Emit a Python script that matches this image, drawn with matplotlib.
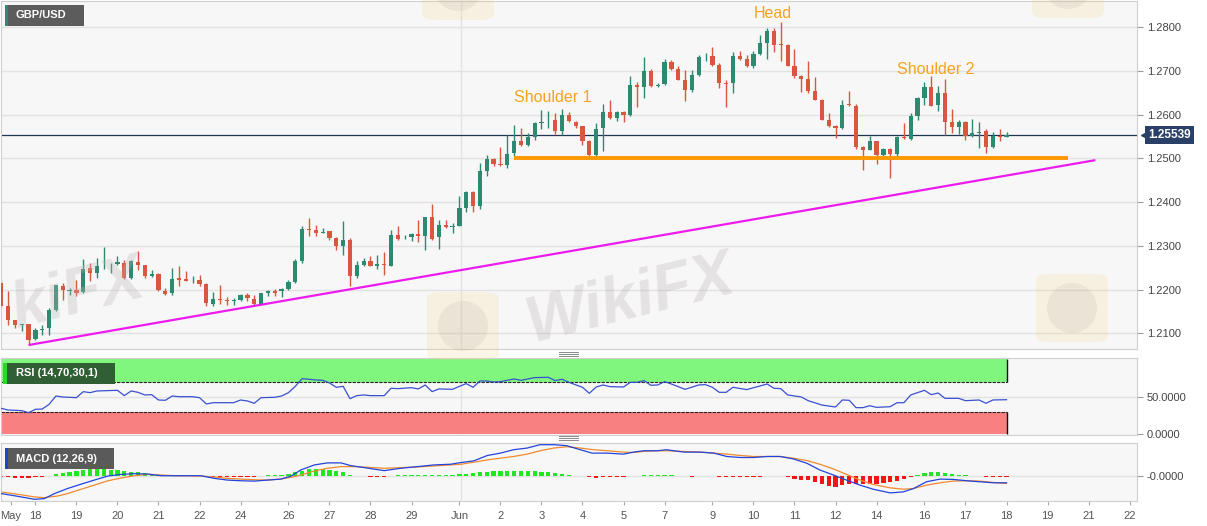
import numpy as np
import matplotlib

matplotlib.use("Agg")
import matplotlib.pyplot as plt
import matplotlib.transforms as mtransforms
from matplotlib.lines import Line2D
from matplotlib.patches import Rectangle, FancyBboxPatch, Ellipse
from matplotlib.ticker import FormatStrFormatter

plt.rcParams["font.family"] = ["Liberation Sans", "DejaVu Sans"]

# GBP/USD 4H candles
opens = [1.22146, 1.21612, 1.21292, 1.21193, 1.21216, 1.20865, 1.21063, 1.21116, 1.21521, 1.22085,
         1.21970, 1.21994, 1.21933, 1.22490, 1.22375, 1.22530, 1.22550, 1.22589, 1.22604, 1.22261,
         1.22627, 1.22551, 1.22314, 1.22360, 1.21971, 1.21917, 1.22261, 1.22238, 1.22190, 1.22223,
         1.22131, 1.21673, 1.21780, 1.21757, 1.21740, 1.21750, 1.21864, 1.21788, 1.21673, 1.21917,
         1.21956, 1.21956, 1.22009, 1.22161, 1.22658, 1.23382, 1.23367, 1.23300, 1.23329, 1.23176,
         1.22986, 1.23138, 1.22299, 1.22551, 1.22642, 1.22528, 1.22581, 1.22543, 1.23253, 1.23170,
         1.23192, 1.23276, 1.23215, 1.23657, 1.23192, 1.23466, 1.23440, 1.23459, 1.23863, 1.24229,
         1.23901, 1.24702, 1.24985, 1.24870, 1.24855, 1.25122, 1.25404, 1.25298, 1.25481, 1.25820,
         1.25850, 1.25870, 1.25633, 1.25984, 1.25832, 1.25732, 1.25404, 1.25069, 1.25694, 1.26061,
         1.25923, 1.26053, 1.25984, 1.26686, 1.26633, 1.27007, 1.26660, 1.26701, 1.27197, 1.27052,
         1.26801, 1.26557, 1.26915, 1.27310, 1.27350, 1.27129, 1.26720, 1.26724, 1.27335, 1.27274,
         1.27106, 1.27396, 1.27640, 1.27907, 1.27610, 1.27602, 1.27121, 1.26877, 1.26816, 1.26534,
         1.26343, 1.25885, 1.25730, 1.25694, 1.26240, 1.26206, 1.25252, 1.25198, 1.25389, 1.25084,
         1.25214, 1.25107, 1.25490, 1.25443, 1.25961, 1.26381, 1.26625, 1.26228, 1.26495, 1.25824,
         1.25717, 1.25824, 1.25504, 1.25590, 1.25618, 1.25252, 1.25520, 1.25500]
highs = [1.22223, 1.21956, 1.21307, 1.21216, 1.21216, 1.21116, 1.21193, 1.21574, 1.22108, 1.22146,
         1.22032, 1.22223, 1.22696, 1.22604, 1.22719, 1.22970, 1.22604, 1.22757, 1.22680, 1.22680,
         1.22871, 1.22566, 1.22452, 1.22375, 1.22032, 1.22490, 1.22528, 1.22413, 1.22299, 1.22337,
         1.22146, 1.21933, 1.22108, 1.21818, 1.21803, 1.21902, 1.21917, 1.21879, 1.21917, 1.21994,
         1.22009, 1.22032, 1.22223, 1.22696, 1.23459, 1.23634, 1.23482, 1.23405, 1.23329, 1.23199,
         1.23558, 1.23176, 1.22642, 1.22719, 1.22757, 1.22795, 1.22848, 1.23367, 1.23443, 1.23237,
         1.23291, 1.23596, 1.23657, 1.23955, 1.23596, 1.23596, 1.23520, 1.24145, 1.24245, 1.24245,
         1.24893, 1.25084, 1.25008, 1.25259, 1.25542, 1.25755, 1.25694, 1.25580, 1.25832, 1.26114,
         1.26076, 1.26038, 1.26137, 1.26053, 1.25847, 1.25732, 1.25427, 1.25809, 1.26251, 1.26328,
         1.26076, 1.26076, 1.26892, 1.26740, 1.27320, 1.27052, 1.26724, 1.27274, 1.27243, 1.27106,
         1.27030, 1.27030, 1.27373, 1.27411, 1.27541, 1.27182, 1.26801, 1.27434, 1.27449, 1.27373,
         1.27449, 1.27815, 1.27983, 1.27983, 1.28113, 1.27617, 1.27503, 1.26915, 1.27220, 1.26854,
         1.26358, 1.26038, 1.25771, 1.26328, 1.26534, 1.26251, 1.25275, 1.25504, 1.25404, 1.25237,
         1.25237, 1.25504, 1.25809, 1.26038, 1.26396, 1.26740, 1.26877, 1.26648, 1.26816, 1.26129,
         1.25870, 1.25847, 1.25900, 1.25824, 1.25671, 1.25595, 1.25671, 1.25603]
lows = [1.21574, 1.21193, 1.21116, 1.21040, 1.20735, 1.20849, 1.20964, 1.20964, 1.21498, 1.21765,
        1.21879, 1.21841, 1.21917, 1.22185, 1.22261, 1.22467, 1.22375, 1.22551, 1.22238, 1.22238,
        1.22452, 1.22261, 1.22284, 1.21956, 1.21879, 1.21879, 1.22085, 1.22185, 1.22146, 1.22085,
        1.21628, 1.21628, 1.21673, 1.21650, 1.21650, 1.21727, 1.21727, 1.21650, 1.21673, 1.21841,
        1.21841, 1.21818, 1.21994, 1.22146, 1.22604, 1.23215, 1.23230, 1.23291, 1.23138, 1.22894,
        1.22795, 1.22085, 1.22261, 1.22528, 1.22528, 1.22467, 1.22337, 1.22528, 1.23138, 1.23154,
        1.23100, 1.23085, 1.22909, 1.23123, 1.22932, 1.23405, 1.23291, 1.23443, 1.23764, 1.23764,
        1.23840, 1.24588, 1.24832, 1.24832, 1.24779, 1.25046, 1.25275, 1.25275, 1.25427, 1.25671,
        1.25694, 1.25557, 1.25542, 1.25824, 1.25694, 1.25313, 1.25046, 1.25046, 1.25160, 1.25900,
        1.25847, 1.25824, 1.25961, 1.26175, 1.26381, 1.26633, 1.26633, 1.26686, 1.27030, 1.26785,
        1.26305, 1.26518, 1.26892, 1.27220, 1.27121, 1.26610, 1.26175, 1.26495, 1.27258, 1.27091,
        1.27068, 1.27373, 1.27274, 1.27426, 1.27220, 1.27106, 1.26839, 1.26511, 1.26495, 1.26328,
        1.25870, 1.25717, 1.25465, 1.25671, 1.26190, 1.25214, 1.24741, 1.25183, 1.24878, 1.25046,
        1.24550, 1.25061, 1.25443, 1.25427, 1.25885, 1.26228, 1.26190, 1.26091, 1.25542, 1.25580,
        1.25565, 1.25427, 1.25488, 1.25237, 1.25122, 1.25237, 1.25389, 1.25481]
closes = [1.21612, 1.21307, 1.21193, 1.21216, 1.20849, 1.21078, 1.21093, 1.21521, 1.22093, 1.21994,
          1.21980, 1.21917, 1.22467, 1.22375, 1.22528, 1.22540, 1.22560, 1.22627, 1.22261, 1.22642,
          1.22551, 1.22314, 1.22360, 1.21979, 1.21902, 1.22246, 1.22223, 1.22192, 1.22200, 1.22123,
          1.21689, 1.21788, 1.21750, 1.21727, 1.21750, 1.21864, 1.21803, 1.21673, 1.21917, 1.21956,
          1.21917, 1.22017, 1.22169, 1.22658, 1.23382, 1.23352, 1.23291, 1.23310, 1.23176, 1.22986,
          1.23138, 1.22299, 1.22551, 1.22642, 1.22543, 1.22581, 1.22551, 1.23253, 1.23154, 1.23180,
          1.23268, 1.23215, 1.23649, 1.23154, 1.23482, 1.23428, 1.23450, 1.23863, 1.24229, 1.23901,
          1.24702, 1.24992, 1.24878, 1.24840, 1.25107, 1.25404, 1.25298, 1.25481, 1.25809, 1.25840,
          1.25860, 1.25633, 1.25984, 1.25847, 1.25732, 1.25404, 1.25069, 1.25679, 1.26061, 1.25923,
          1.26053, 1.25984, 1.26686, 1.26633, 1.27007, 1.26663, 1.26670, 1.27197, 1.27052, 1.26801,
          1.26557, 1.26915, 1.27320, 1.27330, 1.27144, 1.26724, 1.26700, 1.27335, 1.27274, 1.27106,
          1.27396, 1.27640, 1.27907, 1.27602, 1.27600, 1.27121, 1.26877, 1.26816, 1.26534, 1.26343,
          1.25885, 1.25732, 1.25700, 1.26228, 1.26220, 1.25252, 1.25198, 1.25389, 1.25084, 1.25214,
          1.25107, 1.25481, 1.25470, 1.25961, 1.26373, 1.26633, 1.26206, 1.26495, 1.25824, 1.25717,
          1.25824, 1.25504, 1.25580, 1.25610, 1.25252, 1.25504, 1.25490, 1.25539]

# pattern lines (candle index, price)
trend_x = [4, 160]
trend_y = [1.2073, 1.2496]
neck_x = [75, 156]
neck_y = [1.2500, 1.2500]

# RSI(14) line
rsi_x = [0, 1, 3, 4, 5, 6, 7, 8, 9, 11, 12, 13, 14, 17, 18, 19, 20, 21, 22, 23,
         24, 25, 26, 28, 29, 30, 31, 32, 34, 35, 36, 37, 38, 40, 41, 42, 43, 44, 46, 47,
         48, 49, 50, 51, 52, 53, 54, 56, 57, 58, 60, 61, 62, 63, 64, 66, 67, 68, 69, 70,
         71, 72, 73, 75, 76, 78, 80, 81, 82, 83, 85, 86, 87, 88, 89, 91, 92, 93, 94, 95,
         96, 97, 98, 100, 102, 103, 104, 105, 106, 107, 109, 112, 113, 114, 115, 117, 118, 120, 122, 123,
         124, 125, 126, 127, 128, 130, 131, 132, 133, 135, 136, 137, 138, 140, 141, 143, 144, 145, 147]
rsi_y = [34.5, 32.3, 31.4, 28.7, 33.2, 33.6, 39.8, 50.9, 49.6, 48.7, 56.7, 55.4, 57.6, 58.5, 51.4, 57.6, 55.8, 52.3, 52.7, 45.6,
         45.2, 50.9, 50.0, 50.0, 48.7, 40.3, 42.0, 42.0, 42.0, 45.6, 44.3, 41.2, 48.7, 49.2, 50.9, 55.4, 63.8, 74.0, 72.3, 71.8,
         68.3, 62.5, 63.8, 47.4, 51.4, 52.3, 51.4, 51.4, 61.2, 60.7, 62.0, 60.3, 65.6, 56.7, 60.3, 59.8, 63.8, 67.4, 62.5, 70.9,
         70.9, 69.6, 70.0, 73.6, 71.8, 75.4, 75.8, 71.4, 73.2, 69.2, 62.5, 54.5, 62.9, 65.6, 63.4, 62.9, 69.2, 69.2, 71.4, 65.2,
         65.6, 70.0, 66.9, 59.8, 65.6, 66.0, 62.5, 55.8, 55.8, 62.5, 59.4, 66.9, 61.2, 60.7, 52.3, 49.6, 44.7, 38.9, 36.3, 45.6,
         45.2, 35.4, 35.4, 38.0, 35.8, 36.7, 42.0, 42.0, 52.3, 58.5, 52.7, 54.9, 47.8, 47.8, 44.7, 45.6, 41.2, 45.6, 46.0]

# MACD(12,26,9), read in panel units (zero = centre line)
macd_x = [0, 2.4, 4.9, 6.3, 7.8, 9.7, 11.7, 13.6, 15.6, 17.5, 19.5, 21.4, 23.4, 25.3, 27.3, 29.2, 31.2, 33.1, 35.1, 37.0,
          38.9, 40.9, 42.4, 43.8, 45.8, 47.7, 49.7, 51.1, 53.1, 56.0, 58.4, 60.9, 63.3, 65.7, 67.2, 69.1, 71.1, 73.0, 74.9, 76.9,
          78.8, 80.8, 82.7, 84.7, 86.4, 88.6, 91.0, 92.5, 93.9, 95.9, 97.3, 99.8, 102.2, 104.2, 106.1, 108.1, 110.0, 112.0, 113.9, 115.8,
          117.8, 119.7, 121.7, 123.6, 125.6, 127.5, 130.0, 131.9, 133.4, 135.3, 137.3, 139.2, 141.2, 143.1, 145.1, 147.0]
macd_y = [-53, -61, -70, -68, -53, -38, -25, -13, -1, 4, 6, 5, 0, 0, 0, 0, -8, -13, -15, -16,
          -13, -10, -1, 17, 32, 38, 38, 30, 24, 15, 22, 27, 32, 34, 39, 44, 60, 67, 77, 82,
          92, 92, 89, 77, 67, 67, 64, 70, 74, 74, 77, 70, 70, 67, 57, 54, 54, 57, 57, 50,
          37, 17, 2, -13, -28, -40, -51, -48, -38, -18, -10, -11, -15, -18, -21, -21]
signal_x = [0, 2.4, 4.9, 6.3, 8.3, 9.7, 11.7, 13.6, 15.6, 17.5, 19.5, 21.4, 23.4, 25.3, 27.3, 29.2, 31.2, 33.1, 35.1, 37.0,
            38.9, 40.9, 42.8, 43.8, 45.8, 47.7, 49.7, 51.6, 53.6, 56.0, 58.4, 60.9, 63.3, 65.7, 67.2, 69.1, 71.1, 73.0, 74.9, 76.9,
            78.8, 80.8, 82.7, 84.7, 86.6, 88.6, 91.0, 92.5, 93.9, 95.9, 97.3, 99.8, 102.2, 104.2, 106.1, 108.1, 110.0, 112.0, 113.9, 115.8,
            117.8, 119.7, 121.7, 123.6, 125.6, 127.5, 130.0, 131.9, 133.4, 135.3, 137.3, 139.2, 141.2, 143.1, 145.1, 147.0]
signal_y = [-48, -55, -63, -65, -60, -53, -40, -28, -15, -7, 0, 4, 2, 0, 0, -1, -4, -8, -10, -12,
            -13, -10, -3, 2, 14, 22, 27, 27, 25, 22, 24, 26, 29, 32, 34, 40, 47, 52, 57, 64,
            74, 82, 86, 82, 77, 74, 70, 69, 72, 74, 74, 72, 70, 67, 64, 60, 57, 57, 57, 52,
            45, 34, 20, 4, -13, -26, -36, -40, -38, -28, -21, -16, -15, -16, -20, -23]
hist = [-5, -5, -6, -6, -6, -5, -4, -1, 4, 8, 12, 14, 18, 19, 19, 19, 18, 16, 13, 11,
        10, 8, 6, 3, 1, 0.5, 0.3, -0.5, -1, -2, -4, -5, -5, -5, -4, -4, -3, -3, -1, 1,
        2, 3, 5, 10, 15, 19, 21, 21, 18, 14, 10, 3, 0.5, -2, -4, -5, -5, -1, 1, 2,
        2, 2, 3, 3, 3, 3, 3, 4, 6, 8, 10, 12, 13, 14, 15, 15, 14, 14, 13, 12,
        10, 7, 5, 3, 0.5, -2, -5, -6, -5, -5, -4, -4, -2, -1, 1, 2, 2, 2, 1, -1,
        -2, -3, -1, -1, -2, -4, -5, -5, -4, -4, -4, -3, -1, -1, -2, -5, -9, -12, -14, -19,
        -26, -30, -32, -28, -25, -26, -26, -25, -24, -22, -20, -16, -10, -4, 3, 8, 10, 10, 7, 4,
        2, 1, 0, -1, -3, -3, -3, -3]

# x axis labels (candle index of each day start)
tick_pos = [1.4, 5, 11, 17, 23, 29, 35, 42, 48, 54, 60, 67, 73, 79, 85, 91, 97, 104, 110, 116,
            122, 128, 135, 141, 147, 153, 159, 165]
tick_lab = ["May", "18", "19", "20", "21", "22", "24", "26", "27", "28", "29", "Jun", "2", "3", "4", "5",
            "7", "9", "10", "11", "12", "14", "16", "17", "18", "19", "21", "22"]
price_ticks = [1.21, 1.22, 1.23, 1.24, 1.25, 1.26, 1.27, 1.28]

GREEN = "#2b8a70"
RED = "#d9573f"
ORANGE = "#f7a21b"
TAG = "#2b4066"
W, H = 1207, 526
X_RIGHT = 1137 / 6.846   # right edge of the plots in candle units

fig = plt.figure(figsize=(W / 100, H / 100), dpi=100)


def panel(top, bottom):
    return [0.001, 1 - bottom / H, 1137 / W - 0.001, (bottom - top) / H]


ax = fig.add_axes(panel(1, 349))
ax_rsi = fig.add_axes(panel(358, 435), sharex=ax)
ax_macd = fig.add_axes(panel(443, 501), sharex=ax)

for a in (ax, ax_rsi, ax_macd):
    a.set_facecolor("#f7f7f7")
    for s in a.spines.values():
        s.set_color("#cfcfcf")
        s.set_linewidth(0.8)
    a.yaxis.tick_right()
    a.tick_params(axis="y", direction="out", length=4, color="#999999",
                  labelcolor="#444444", labelsize=8, pad=3)
    a.axvline(67.2, color="#e3e3e3", lw=1, zorder=0)
    a.set_xlim(0, X_RIGHT)

# ---- price panel
o = np.array(opens)
hi = np.array(highs)
lo = np.array(lows)
c = np.array(closes)
idx = np.arange(len(o))
cols = np.where(c >= o, GREEN, RED)

for p in price_ticks:
    ax.axhline(p, color="#e2e2e2", lw=1, zorder=0)

# faint WikiFX watermarks
ax.text(92, 1.2176, "WikiFX", fontsize=46, fontweight="bold", fontstyle="italic",
        color="#bdb5b5", alpha=0.32, rotation=14, ha="center", va="center", zorder=5)
ax.text(0.6, 1.2186, "kiFX", fontsize=46, fontweight="bold", fontstyle="italic",
        color="#bdb5b5", alpha=0.32, rotation=14, ha="left", va="center", zorder=5)

ax.vlines(idx, lo, hi, colors=cols, lw=1, zorder=2)
ax.bar(idx, np.maximum(np.abs(c - o), 0.00004), bottom=np.minimum(o, c),
       width=0.62, color=cols, lw=0, zorder=3)

ax.plot(trend_x, trend_y, color="#ee1bee", lw=1.6, zorder=4, solid_capstyle="butt")
ax.plot(neck_x, neck_y, color="#ff9800", lw=2.8, zorder=4, solid_capstyle="butt")
ax.axhline(c[-1], color="#1f3556", lw=0.9, zorder=1)

ax.text(112.9, 1.28326, "Head", color=ORANGE, fontsize=11.5, ha="center", va="center")
ax.text(80.6, 1.26382, "Shoulder 1", color=ORANGE, fontsize=11.5, ha="center", va="center")
ax.text(136.6, 1.27045, "Shoulder 2", color=ORANGE, fontsize=11.5, ha="center", va="center")

ax.set_ylim(1.20639, 1.28601)
ax.set_yticks(price_ticks)
ax.yaxis.set_major_formatter(FormatStrFormatter("%.4f"))
ax.tick_params(axis="x", bottom=False, labelbottom=False)

# last price tag on the right axis
tag_tr = mtransforms.blended_transform_factory(ax.transAxes, ax.transData)
ax.plot([1.006], [c[-1]], marker="<", ms=5, color=TAG, transform=tag_tr,
        clip_on=False, zorder=6)
ax.text(1.01, c[-1], f"{c[-1]:.5f}", transform=tag_tr, color="white", fontsize=8.5,
        fontweight="bold", ha="left", va="center", zorder=7,
        bbox=dict(boxstyle="square,pad=0.28", fc=TAG, ec="none"))

# ---- RSI panel
last = idx[-1]
ax_rsi.axhline(50, color="#e2e2e2", lw=1, zorder=0)
ax_rsi.add_patch(Rectangle((0, 70), last, 30, fc="#80f77c", ec="none", zorder=1))
ax_rsi.add_patch(Rectangle((0, 0), last, 30, fc="#f98080", ec="none", zorder=1))
ax_rsi.hlines([70, 30], 0, last, colors="#222222", lw=0.8, linestyles=(0, (3, 1)), zorder=2)
ax_rsi.vlines([last, last], [70, 0], [100, 30], colors="#111111", lw=1, zorder=2)
ax_rsi.plot(rsi_x, rsi_y, color="#3a50d0", lw=0.9, zorder=3)
ax_rsi.set_ylim(-1, 101.5)
ax_rsi.set_yticks([0, 50])
ax_rsi.yaxis.set_major_formatter(FormatStrFormatter("%.4f"))
ax_rsi.tick_params(axis="x", bottom=False, labelbottom=False)

# ---- MACD panel
hv = np.array(hist)
ax_macd.axhline(0, color="#e2e2e2", lw=1, zorder=0)
ax_macd.bar(idx, hv, width=0.62, color=np.where(hv >= 0, "#1fe61f", "#f51414"), lw=0, zorder=1)
ax_macd.plot(signal_x, signal_y, color="#f08a2c", lw=0.9, zorder=2)
ax_macd.plot(macd_x, macd_y, color="#2244dd", lw=0.9, zorder=3)
ax_macd.set_ylim(-75, 97)
ax_macd.set_yticks([0])
ax_macd.set_yticklabels(["-0.0000"])
ax_macd.set_xticks(tick_pos)
ax_macd.set_xticklabels(tick_lab)
ax_macd.tick_params(axis="x", direction="out", length=3, color="#aaaaaa",
                    labelcolor="#555555", labelsize=8, pad=4)


# ---- label boxes, logos and panel handles (figure pixels)
def px_box(x0, y0, x1, y1, color):
    fig.add_artist(Rectangle((x0 / W, 1 - y1 / H), (x1 - x0) / W, (y1 - y0) / H,
                             transform=fig.transFigure, fc=color, ec="none", zorder=5))


def logo(cx, cy):
    fig.add_artist(FancyBboxPatch(((cx - 36) / W, 1 - (cy + 34) / H), 72 / W, 68 / H,
                                  boxstyle="round,pad=0,rounding_size=0.012",
                                  transform=fig.transFigure, fc="#f3d890", ec="none",
                                  alpha=0.22, zorder=4))
    fig.add_artist(Ellipse((cx / W, 1 - cy / H), 50 / W, 50 / H, transform=fig.transFigure,
                           fc="#9a9090", ec="none", alpha=0.12, zorder=4))


for cx, cy in [(463, 326), (1072, 308), (458, -14), (1068, -16)]:
    logo(cx, cy)

px_box(5, 5, 84, 26, "#5c5c5c")
px_box(5, 5, 7.5, 26, "#2a8a7a")
fig.text(16 / W, 1 - 15.5 / H, "GBP/USD", color="white", fontsize=8, fontweight="bold",
         va="center", zorder=6)
px_box(3, 363, 115, 384, "#2f5f33")
px_box(3, 363, 6.5, 384, "#22dd22")
fig.text(16 / W, 1 - 373.5 / H, "RSI (14,70,30,1)", color="white", fontsize=8,
         fontweight="bold", va="center", zorder=6)
px_box(5, 448, 114, 469, "#5a5a5a")
px_box(5, 448, 7.5, 469, "#2244cc")
fig.text(16 / W, 1 - 458.5 / H, "MACD (12,26,9)", color="white", fontsize=8,
         fontweight="bold", va="center", zorder=6)

for yh in (354, 438):
    for dy in (-2, 0, 2):
        fig.add_artist(Line2D([559 / W, 578 / W], [1 - (yh + dy) / H] * 2,
                              transform=fig.transFigure, color="#8a8a8a", lw=0.7, zorder=6))

fig.savefig("out.png", dpi=100, facecolor="white")
